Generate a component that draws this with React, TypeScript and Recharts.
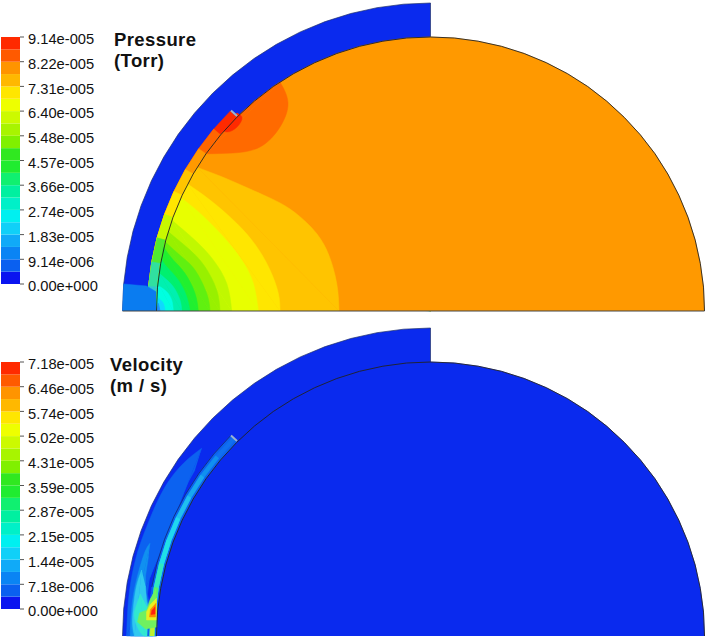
import { Bar, BarChart, Scatter, ScatterChart, XAxis, YAxis } from 'recharts'

type Pair = [number, number]

const DISC_LEFT: Pair[] = [[-274, 0], [-273, 23.9], [-269.8, 47.6], [-264.7, 70.9], [-257.5, 93.7], [-248.3, 115.8], [-237.3, 137], [-224.5, 157.2], [-209.9, 176.1], [-193.7, 193.7], [-176.1, 209.9], [-157.2, 224.5], [-137, 237.3], [-115.8, 248.3], [-93.7, 257.5], [-70.9, 264.7], [-47.6, 269.8], [-23.9, 273], [0, 274]]
const DISC_RIGHT: Pair[] = [[23.9, 273], [47.6, 269.8], [70.9, 264.7], [93.7, 257.5], [115.8, 248.3], [137, 237.3], [157.2, 224.5], [176.1, 209.9], [193.7, 193.7], [209.9, 176.1], [224.5, 157.2], [237.3, 137], [248.3, 115.8], [257.5, 93.7], [264.7, 70.9], [269.8, 47.6], [273, 23.9], [274, 0]]
const SHELL: Pair[] = [[-308, 0], [-306.8, 26.9], [-303.3, 53.5], [-297.5, 79.7], [-289.4, 105.3], [-279.1, 130.2], [-266.7, 154], [-252.3, 176.7], [-235.9, 198], [-217.8, 217.8], [-198, 235.9], [-176.7, 252.3], [-154, 266.7], [-130.2, 279.1], [-105.3, 289.4], [-79.7, 297.5], [-53.5, 303.3], [-26.9, 306.8], [0, 308], [0, 274], [0, 0]]
const CHANNEL_WALL: Pair[] = [[-283, 0], [-281.9, 24.7], [-278.7, 49.1], [-273.4, 73.2], [-265.9, 96.8], [-256.5, 119.6], [-245.1, 141.5], [-231.8, 162.3], [-216.8, 181.9], [-200.1, 200.1]]
const CHANNEL_TIP: Pair[] = [[-199.5, 200.5], [-193.5, 195]]
const STRIP_OUTER: Pair[] = [[-280.5, 0], [-279.4, 24.4], [-276.2, 48.7], [-270.9, 72.6], [-263.6, 95.9], [-254.2, 118.5], [-242.9, 140.2], [-229.8, 160.9], [-214.9, 180.3], [-198.3, 198.3]]
const STRIP_INNER: Pair[] = [[-276.5, 0], [-275.4, 24.1], [-272.3, 48], [-267.1, 71.6], [-259.8, 94.6], [-250.6, 116.9], [-239.5, 138.3], [-226.5, 158.6], [-211.8, 177.7], [-195.5, 195.5]]

// pressure
const BLUE = '#0a2aee'
const SHELL_FOOT: Pair[] = [[-308, 0], [-306.8, 27], [-284, 25], [-274, 19], [-274, 0]]
const CHANNEL_STOPS = [10, 9, 8, 7, 6, 5, 4, 3, 2]
const CHANNEL_COLORS = ['#ff2a00', '#ff6600', '#ff9900', '#ffc400', '#ffe600', '#c8f800', '#50ea30', '#30e0a0', '#30c8d0']
// arc = how many DISC_LEFT points lie under the end of the edge
const CONTOURS: { edge: Pair[]; arc: number; color: string }[] = [
  { color: '#ffc400', arc: 7, edge: [[-91.5, 0], [-93.8, 27.7], [-103.8, 61], [-120.5, 85], [-140.5, 102], [-160.5, 113], [-187.2, 125], [-210.5, 135], [-233, 143.6]] },
  { color: '#ffe600', arc: 6, edge: [[-150.5, 0], [-152.2, 17.7], [-160.5, 41], [-173.8, 64.3], [-193.8, 87.7], [-220.5, 111], [-243, 127]] },
  { color: '#e8ff00', arc: 5, edge: [[-172.2, 0], [-177.2, 27.7], [-188.8, 51], [-207.2, 74.3], [-230.5, 97.7], [-248.8, 112.7]] },
  { color: '#c0f800', arc: 4, edge: [[-198.8, 0], [-203.8, 27.7], [-217.2, 51], [-233.8, 69.3], [-258.8, 91]] },
  { color: '#98f000', arc: 4, edge: [[-210.5, 0], [-213.8, 21], [-225.5, 44.3], [-240.5, 61], [-262.2, 79.3]] },
  { color: '#60f010', arc: 3, edge: [[-220.5, 0], [-223.8, 17.7], [-235.5, 41], [-248.8, 54.3], [-265.5, 69.3]] },
  { color: '#20f030', arc: 3, edge: [[-232.2, 0], [-235.5, 17.7], [-245.5, 37.7], [-257.2, 51], [-267.2, 64.3]] },
  { color: '#00f070', arc: 3, edge: [[-240.5, 0], [-243.8, 14.3], [-252.2, 31], [-263.8, 44.3], [-268.8, 51]] },
  { color: '#00f0b0', arc: 2, edge: [[-248.8, 0], [-250.5, 11], [-257.2, 24.3], [-265.5, 32.7], [-271.2, 37.7]] },
  { color: '#00ffe0', arc: 2, edge: [[-257.2, 0], [-258.8, 11], [-263.8, 19.3], [-270.5, 24.3]] },
  { color: '#10d8ff', arc: 1, edge: [[-265.5, 0], [-267.2, 7.7], [-272.2, 12.7]] },
  { color: '#2090ff', arc: 1, edge: [[-270.5, 0], [-272.2, 7.7]] },
]
const PEAK_ORANGE_EDGE: Pair[] = [[-224.5, 157.2], [-197.5, 158], [-170.5, 164], [-150.5, 184], [-142.5, 208], [-150.5, 229]]
const PEAK_ORANGE_ARC: Pair[] = [[-157.2, 224.5], [-176.1, 209.9], [-193.7, 193.7], [-209.9, 176.1]]
const PEAK_RED_EDGE: Pair[] = [[-212.5, 184], [-203.5, 179], [-193.5, 184], [-188.5, 193], [-193.5, 198]]

// velocity
const STRIP_STOPS = [10, 9, 8, 7, 6, 5, 4, 3, 2]
const STRIP_COLORS = ['#1070f0', '#1090f0', '#18a8f0', '#20c0f0', '#20d8f0', '#20e0e8', '#30e8c0', '#50f070', '#c0f030']
const PLUMES: { color: string; curve: Pair[]; rest: Pair[] }[] = [
  {
    color: '#0c62f0',
    curve: [[-228.8, 187.7], [-247, 172.7], [-267.2, 146], [-283.8, 109.3], [-294, 80], [-301, 45], [-303.5, 12], [-304, 0]],
    rest: [[-273.8, 0], [-273.8, 14], [-280, 26], [-283, 42], [-281, 58], [-274.5, 76], [-267.2, 102.7], [-258.8, 122.7], [-248.8, 142.7], [-235.5, 166]],
  },
  {
    color: '#1090f0',
    curve: [[-280.5, 92.7], [-286, 83], [-293, 60], [-298, 35], [-300, 10], [-300, 0]],
    rest: [[-273.8, 0], [-273.8, 14], [-281, 26], [-285, 44], [-285, 60], [-282, 80]],
  },
  {
    color: '#30c8f0',
    curve: [[-288.8, 66], [-294, 50], [-297, 30], [-298, 12], [-296, 0]],
    rest: [[-278, 0], [-277, 8], [-280, 20], [-284, 35], [-285, 50]],
  },
  {
    color: '#30e8d0',
    curve: [[-290, 42], [-295, 28], [-296, 18], [-291, 5], [-286, 0]],
    rest: [[-278, 0], [-277, 8], [-281, 18], [-284, 30]],
  },
]
const HOT_SPOTS: { color: string; points: Pair[] }[] = [
  { color: '#70f060', points: [[-274.5, 47.7], [-273.8, 9], [-285, 7], [-293, 14], [-291, 23], [-283.8, 26], [-280, 37.7]] },
  { color: '#e8f020', points: [[-274, 38], [-274, 16], [-284, 16], [-284, 24], [-280, 32]] },
  { color: '#ff8800', points: [[-274.5, 33], [-275, 19], [-281, 19], [-280, 27]] },
  { color: '#ff2010', points: [[-275.5, 29.3], [-275.5, 22], [-279.5, 21.5], [-278.5, 26]] },
]

// colour bar
const BAND_COLORS = ['#0a14f0', '#0a60f0', '#0a84f4', '#10aaf8', '#10d0f8', '#00f0f0', '#00f0c8', '#00f0a0', '#10f070', '#20ec30', '#30e820', '#80f000', '#a8f400', '#ccfa00', '#eeff00', '#ffe600', '#ffb800', '#ff9400', '#ff5a00', '#ff2a00']
const BAND_IDS = ['a', 'b', 'c', 'd', 'e', 'f', 'g', 'h', 'i', 'j', 'k', 'l', 'm', 'n', 'o', 'p', 'q', 'r', 's', 't']
const BAND_ROW = [{ a: 1, b: 1, c: 1, d: 1, e: 1, f: 1, g: 1, h: 1, i: 1, j: 1, k: 1, l: 1, m: 1, n: 1, o: 1, p: 1, q: 1, r: 1, s: 1, t: 1 }]
const BAND_TICKS = [0, 2, 4, 6, 8, 10, 12, 14, 16, 18, 20]
const PRESSURE_LABELS = ['0.00e+000', '9.14e-006', '1.83e-005', '2.74e-005', '3.66e-005', '4.57e-005', '5.48e-005', '6.40e-005', '7.31e-005', '8.22e-005', '9.14e-005']
const VELOCITY_LABELS = ['0.00e+000', '7.18e-006', '1.44e-005', '2.15e-005', '2.87e-005', '3.59e-005', '4.31e-005', '5.02e-005', '5.74e-005', '6.46e-005', '7.18e-005']

const FONT = 'Arial, "Liberation Sans", sans-serif'

const toPoints = (pairs: Pair[]) => pairs.map(([x, y]) => ({ x, y }))

function poly(key: string, pairs: Pair[], fill: string, stroke = fill, strokeWidth = 0.5, curved = false) {
  return (
    <Scatter
      key={key}
      data={toPoints(pairs)}
      isAnimationActive={false}
      shape={() => <g />}
      line={{ fill, stroke, strokeWidth }}
      lineJointType={curved ? 'natural' : 'linear'}
    />
  )
}

// a region with one smooth side: the straight core plus the sliver between chord and curve
function curvedRegion(key: string, edge: Pair[], rest: Pair[], color: string) {
  return [
    poly(`${key}-core`, [edge[0], edge[edge.length - 1], ...rest], color),
    poly(`${key}-edge`, edge, color, color, 0.5, true),
  ]
}

const discOutline = [...DISC_LEFT, ...DISC_RIGHT]
const channelWedge = (n: number): Pair[] => [...CHANNEL_WALL.slice(0, n), [0, 0]]
const stripBand = (n: number): Pair[] => [...STRIP_OUTER.slice(0, n), ...STRIP_INNER.slice(0, n).reverse()]

function Panel({ top, yMin, yMax, children }: { top: number; yMin: number; yMax: number; children: React.ReactNode }) {
  return (
    <div style={{ position: 'absolute', left: 0, top }}>
      <ScatterChart width={709} height={319} margin={{ top: 0, right: 0, bottom: 0, left: 0 }}>
        <XAxis type="number" dataKey="x" domain={[-430.5, 278.5]} hide />
        <YAxis type="number" dataKey="y" domain={[yMin, yMax]} hide />
        {children}
      </ScatterChart>
    </div>
  )
}

function ColorBar({ top, labels }: { top: number; labels: string[] }) {
  return (
    <div style={{ position: 'absolute', left: 1, top }}>
      <BarChart width={100} height={271} data={BAND_ROW} margin={{ top: 12, right: 0, bottom: 12, left: 0 }} barCategoryGap={0}>
        <XAxis hide />
        <YAxis
          orientation="right"
          type="number"
          domain={[0, 20]}
          ticks={BAND_TICKS}
          interval={0}
          width={81}
          axisLine={false}
          tickSize={4}
          tickMargin={4}
          tickLine={{ stroke: '#555' }}
          tick={{ fontSize: 14.7, fill: '#111', fontFamily: FONT, dy: 2 }}
          tickFormatter={(v: number) => labels[v / 2]}
        />
        {BAND_IDS.map((id, i) => (
          <Bar key={id} dataKey={id} stackId="bar" fill={BAND_COLORS[i]} isAnimationActive={false} />
        ))}
      </BarChart>
    </div>
  )
}

function Title({ left, top, lines }: { left: number; top: number; lines: string[] }) {
  return (
    <div style={{ position: 'absolute', left, top, fontFamily: FONT, fontWeight: 700, fontSize: 18.5, lineHeight: '21px', letterSpacing: 0.4, color: '#111', whiteSpace: 'nowrap' }}>
      {lines.map(l => <div key={l}>{l}</div>)}
    </div>
  )
}

export default function App() {
  return (
    <div style={{ position: 'absolute', left: 0, top: 0, width: 709, height: 638, background: '#fff', overflow: 'hidden' }}>
      <Panel top={0} yMin={-8} yMax={311}>
        {poly('shell', SHELL, BLUE, '#20306a', 0.7)}
        {CHANNEL_STOPS.map((n, i) => poly(`band${n}`, channelWedge(n), CHANNEL_COLORS[i]))}
        {poly('foot', SHELL_FOOT, '#0a7cf0')}
        {poly('disc', discOutline, '#ff9900')}
        {CONTOURS.map(c => curvedRegion(c.color, c.edge, DISC_LEFT.slice(0, c.arc).reverse(), c.color))}
        {curvedRegion('peak', PEAK_ORANGE_EDGE, PEAK_ORANGE_ARC, '#ff6a00')}
        {curvedRegion('red', PEAK_RED_EDGE, [], '#ff2a00')}
        {poly('tip', CHANNEL_TIP, 'none', '#9ab4d0', 2)}
        {poly('outline', discOutline, 'none', '#222', 0.9)}
        {poly('base', [[-308, 0], [274, 0]], 'none', '#444', 1)}
      </Panel>
      <Panel top={319} yMin={-2} yMax={317}>
        {poly('shell', SHELL, BLUE, '#20306a', 0.7)}
        {poly('disc', discOutline, BLUE)}
        {PLUMES.map(p => curvedRegion(p.color, p.curve, p.rest, p.color))}
        {poly('channel', [...CHANNEL_WALL, ...DISC_LEFT.slice(0, 10).reverse()], '#0c62f0')}
        {STRIP_STOPS.map((n, i) => poly(`strip${n}`, stripBand(n), STRIP_COLORS[i]))}
        {HOT_SPOTS.map(p => poly(p.color, p.points, p.color))}
        {poly('wall', CHANNEL_WALL.slice(2), 'none', '#14246e', 0.8)}
        {poly('tip', CHANNEL_TIP, 'none', '#9ab4d0', 2)}
        {poly('outline', discOutline, 'none', '#222', 0.9)}
      </Panel>
      <ColorBar top={25} labels={PRESSURE_LABELS} />
      <ColorBar top={350} labels={VELOCITY_LABELS} />
      <Title left={114} top={29} lines={['Pressure', '(Torr)']} />
      <Title left={110} top={354} lines={['Velocity', '(m / s)']} />
    </div>
  )
}
